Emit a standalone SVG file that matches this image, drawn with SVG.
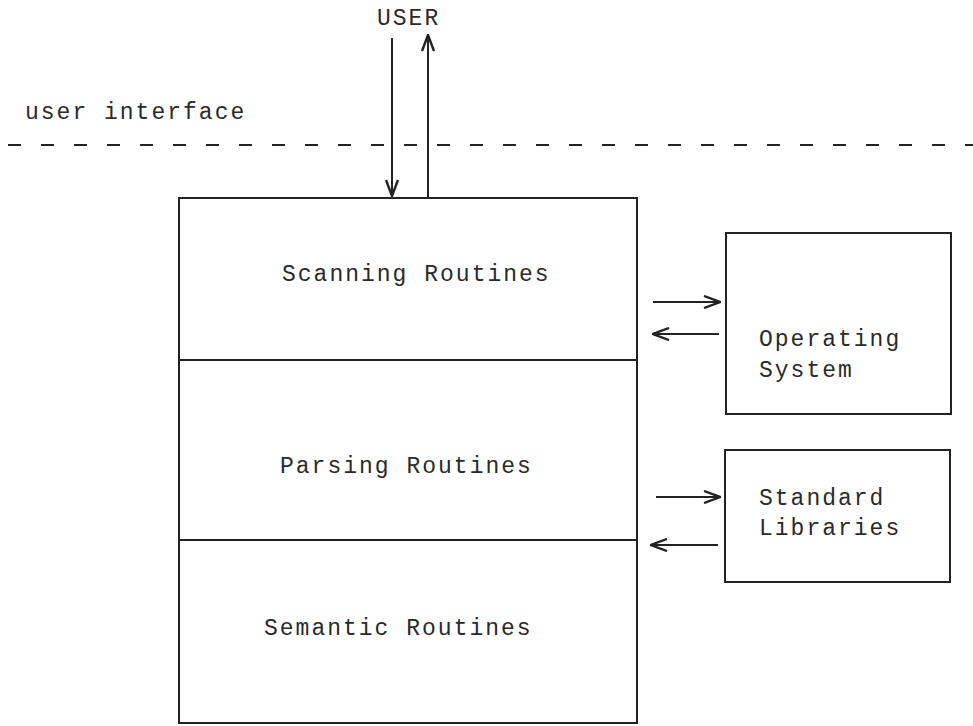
<svg xmlns="http://www.w3.org/2000/svg" width="973" height="726" viewBox="0 0 973 726">
<style>
.t{font-family:"Liberation Mono","DejaVu Sans Mono",monospace;font-size:23px;letter-spacing:2px;fill:#2a2a2a}
.b{fill:none;stroke:#222;stroke-width:2}
.c{stroke:#222;stroke-width:2;fill:none}
</style>
<defs>
<marker id="ah" viewBox="0 0 18 14" refX="17" refY="7" markerWidth="18" markerHeight="14" markerUnits="userSpaceOnUse" orient="auto">
<path d="M1,1 L17,7 L1,13" fill="none" stroke="#222" stroke-width="2.4"/>
</marker>
</defs>
<rect width="973" height="726" fill="#fff"/>
<g id="labels">
<text class="t" x="377" y="25">USER</text>
<text class="t" x="25" y="119">user interface</text>
</g>
<line x1="8" y1="145" x2="973" y2="145" stroke="#222" stroke-width="2" stroke-dasharray="13,20"/>
<g id="main">
<rect class="b" x="179" y="198" width="458" height="525"/>
<line class="b" x1="179" y1="360" x2="637" y2="360"/>
<line class="b" x1="179" y1="540" x2="637" y2="540"/>
</g>
<g id="scanning"><text class="t" x="282" y="281">Scanning Routines</text></g>
<g id="parsing"><text class="t" x="280" y="473">Parsing Routines</text></g>
<g id="semantic"><text class="t" x="264" y="635">Semantic Routines</text></g>
<g id="os">
<rect class="b" x="726" y="233" width="225" height="181"/>
<text class="t" x="759" y="346">Operating</text>
<text class="t" x="759" y="377">System</text>
</g>
<g id="stdlib">
<rect class="b" x="725" y="450" width="225" height="132"/>
<text class="t" x="759" y="505">Standard</text>
<text class="t" x="759" y="535">Libraries</text>
</g>
<g id="connectors">
<line class="c" x1="392" y1="38" x2="392" y2="196" marker-end="url(#ah)"/>
<line class="c" x1="428" y1="198" x2="428" y2="35" marker-end="url(#ah)"/>
<line class="c" x1="653" y1="302" x2="720" y2="302" marker-end="url(#ah)"/>
<line class="c" x1="719" y1="334" x2="653" y2="334" marker-end="url(#ah)"/>
<line class="c" x1="656" y1="497" x2="720" y2="497" marker-end="url(#ah)"/>
<line class="c" x1="718" y1="545" x2="651" y2="545" marker-end="url(#ah)"/>
</g>
</svg>
